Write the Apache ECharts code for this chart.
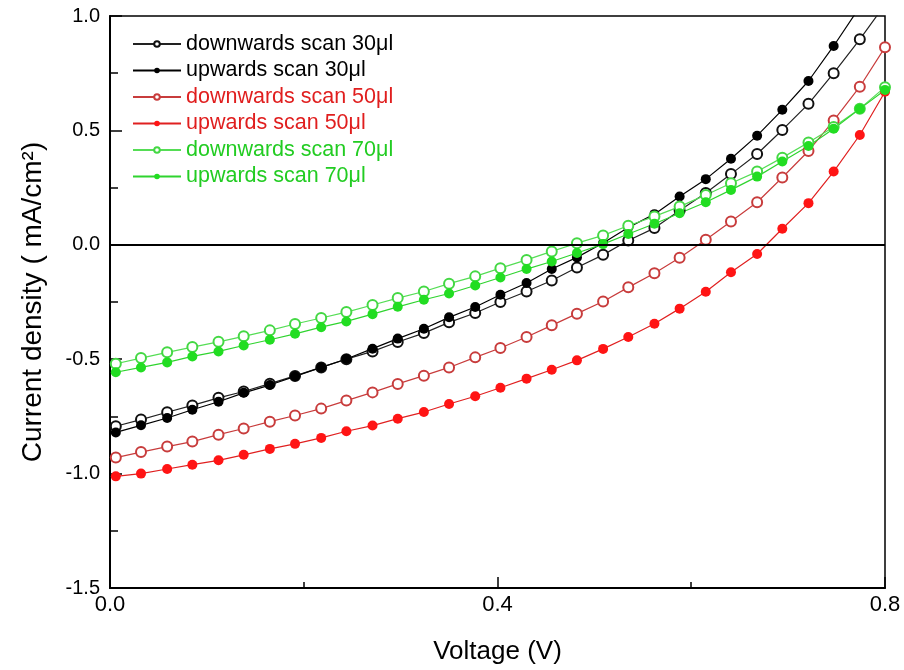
<!DOCTYPE html>
<html>
<head>
<meta charset="utf-8">
<script src="https://cdn.jsdelivr.net/npm/echarts@6/dist/echarts.min.js"></script>
<style>
html, body { margin: 0; padding: 0; background: #fff; }
#chart { width: 904px; height: 670px; }
</style>
</head>
<body>
<div id="chart"></div>
<script>
// 电压 (V)
const voltage = [0.006, 0.032, 0.059, 0.085, 0.112, 0.138, 0.165, 0.191, 0.218, 0.244,
    0.271, 0.297, 0.324, 0.350, 0.377, 0.403, 0.430, 0.456, 0.482, 0.509,
    0.535, 0.562, 0.588, 0.615, 0.641, 0.668, 0.694, 0.721, 0.747, 0.774, 0.800]
// 电流密度 (mA/cm2)
const down30 = [-0.793, -0.764, -0.732, -0.702, -0.669, -0.641, -0.607, -0.573, -0.536, -0.500,
    -0.466, -0.425, -0.386, -0.339, -0.298, -0.250, -0.204, -0.156, -0.099, -0.044,
    0.019, 0.073, 0.150, 0.226, 0.309, 0.397, 0.502, 0.616, 0.750, 0.898, 1.05]
const up30 = [-0.820, -0.789, -0.757, -0.721, -0.686, -0.647, -0.613, -0.575, -0.536, -0.499,
    -0.454, -0.410, -0.367, -0.317, -0.272, -0.218, -0.167, -0.106, -0.055, 0.008,
    0.076, 0.134, 0.211, 0.287, 0.376, 0.477, 0.590, 0.716, 0.869, 1.04, 1.22]
const down50 = [-0.930, -0.906, -0.882, -0.860, -0.830, -0.803, -0.773, -0.746, -0.716, -0.681,
    -0.645, -0.608, -0.572, -0.536, -0.492, -0.451, -0.403, -0.352, -0.301, -0.248,
    -0.186, -0.124, -0.057, 0.022, 0.102, 0.186, 0.294, 0.410, 0.543, 0.691, 0.863]
const up50 = [-1.012, -1.000, -0.980, -0.961, -0.942, -0.918, -0.892, -0.870, -0.844, -0.815,
    -0.790, -0.760, -0.731, -0.696, -0.662, -0.625, -0.585, -0.546, -0.505, -0.455,
    -0.403, -0.345, -0.279, -0.205, -0.120, -0.040, 0.070, 0.182, 0.320, 0.480, 0.669]
const down70 = [-0.520, -0.495, -0.470, -0.447, -0.424, -0.400, -0.374, -0.346, -0.320, -0.294,
    -0.263, -0.233, -0.204, -0.170, -0.138, -0.102, -0.066, -0.029, 0.007, 0.041,
    0.083, 0.124, 0.167, 0.218, 0.269, 0.320, 0.381, 0.447, 0.515, 0.595, 0.689]
const up70 = [-0.557, -0.536, -0.514, -0.488, -0.466, -0.440, -0.415, -0.389, -0.360, -0.335,
    -0.303, -0.271, -0.240, -0.213, -0.178, -0.143, -0.106, -0.073, -0.036, 0.003,
    0.047, 0.092, 0.138, 0.186, 0.240, 0.298, 0.364, 0.432, 0.507, 0.594, 0.677]

const names = ['downwards scan 30μl', 'upwards scan 30μl', 'downwards scan 50μl',
    'upwards scan 50μl', 'downwards scan 70μl', 'upwards scan 70μl']
const values = [down30, up30, down50, up50, down70, up70]
const lineColors = ['#222', '#000', '#c83c3c', '#e02020', '#55dd55', '#2fd42f']
const markColors = ['#111', '#000', '#c83c3c', '#ff1414', '#44d844', '#22dd22']
const textColors = ['#000', '#000', '#e01e1e', '#e01e1e', '#22cc22', '#22cc22']

const chart = echarts.init(document.getElementById('chart'))
const font = '"Liberation Sans", Arial, sans-serif'

function getSeries() {
    let seriesArr = []
    for (let i = 0; i < values.length; i++) {
        const open = i % 2 === 0
        let obj = {
            name: names[i],
            type: 'line',
            data: voltage.map((v, k) => [v, values[i][k]]),
            symbol: open ? 'emptyCircle' : 'circle',
            symbolSize: 10,
            showAllSymbol: true,
            lineStyle: { width: 1.2, color: lineColors[i] },
            itemStyle: { color: markColors[i], borderWidth: open ? 1 : 0 },
            z: 3,
            animation: false
        }
        if (i === 0) { //零线
            obj.markLine = {
                silent: true,
                symbol: 'none',
                label: { show: false },
                lineStyle: { color: '#000', width: 2, type: 'solid' },
                data: [{ yAxis: 0 }]
            }
        }
        seriesArr.push(obj)
    }
    return seriesArr
}

const option = {
    backgroundColor: '#fff',
    animation: false,
    grid: {
        left: 110, right: 19, top: 16, bottom: 82,
        show: true, borderColor: '#000', borderWidth: 1.5, backgroundColor: 'transparent'
    },
    legend: {
        orient: 'vertical',
        left: 127, top: 28,
        itemWidth: 48, itemHeight: 7, itemGap: 4.5,
        data: names.map((n, i) => ({ name: n, textStyle: { color: textColors[i] } })),
        textStyle: { fontSize: 21.5, fontFamily: font, lineHeight: 21.5 }
    },
    xAxis: {
        type: 'value',
        min: 0, max: 0.8, interval: 0.4,
        name: 'Voltage (V)',
        nameLocation: 'middle',
        nameGap: 51,
        nameTextStyle: { fontSize: 26, fontFamily: font, color: '#000' },
        axisLine: { show: true, onZero: false, lineStyle: { color: '#000', width: 2 } },
        axisTick: { show: true, inside: true, length: 11, lineStyle: { color: '#000', width: 1.5 } },
        minorTick: { show: true, splitNumber: 2, length: 6, lineStyle: { color: '#000', width: 1.5 } },
        splitLine: { show: false },
        axisLabel: { fontSize: 22, fontFamily: font, color: '#000', margin: 6, formatter: v => v.toFixed(1) }
    },
    yAxis: {
        type: 'value',
        min: -1.5, max: 1.0, interval: 0.5,
        name: 'Current density ( mA/cm²)',
        nameLocation: 'middle',
        nameGap: 63,
        nameTextStyle: { fontSize: 28, fontFamily: font, color: '#000' },
        axisLine: { show: true, onZero: false, lineStyle: { color: '#000', width: 2 } },
        axisTick: { show: true, inside: true, length: 12, lineStyle: { color: '#000', width: 1.5 } },
        minorTick: { show: true, splitNumber: 2, length: 8, lineStyle: { color: '#000', width: 1.5 } },
        splitLine: { show: false },
        axisLabel: { fontSize: 20, fontFamily: font, color: '#000', margin: 10, formatter: v => v.toFixed(1) }
    },
    series: getSeries()
}
chart.setOption(option)
</script>
</body>
</html>
